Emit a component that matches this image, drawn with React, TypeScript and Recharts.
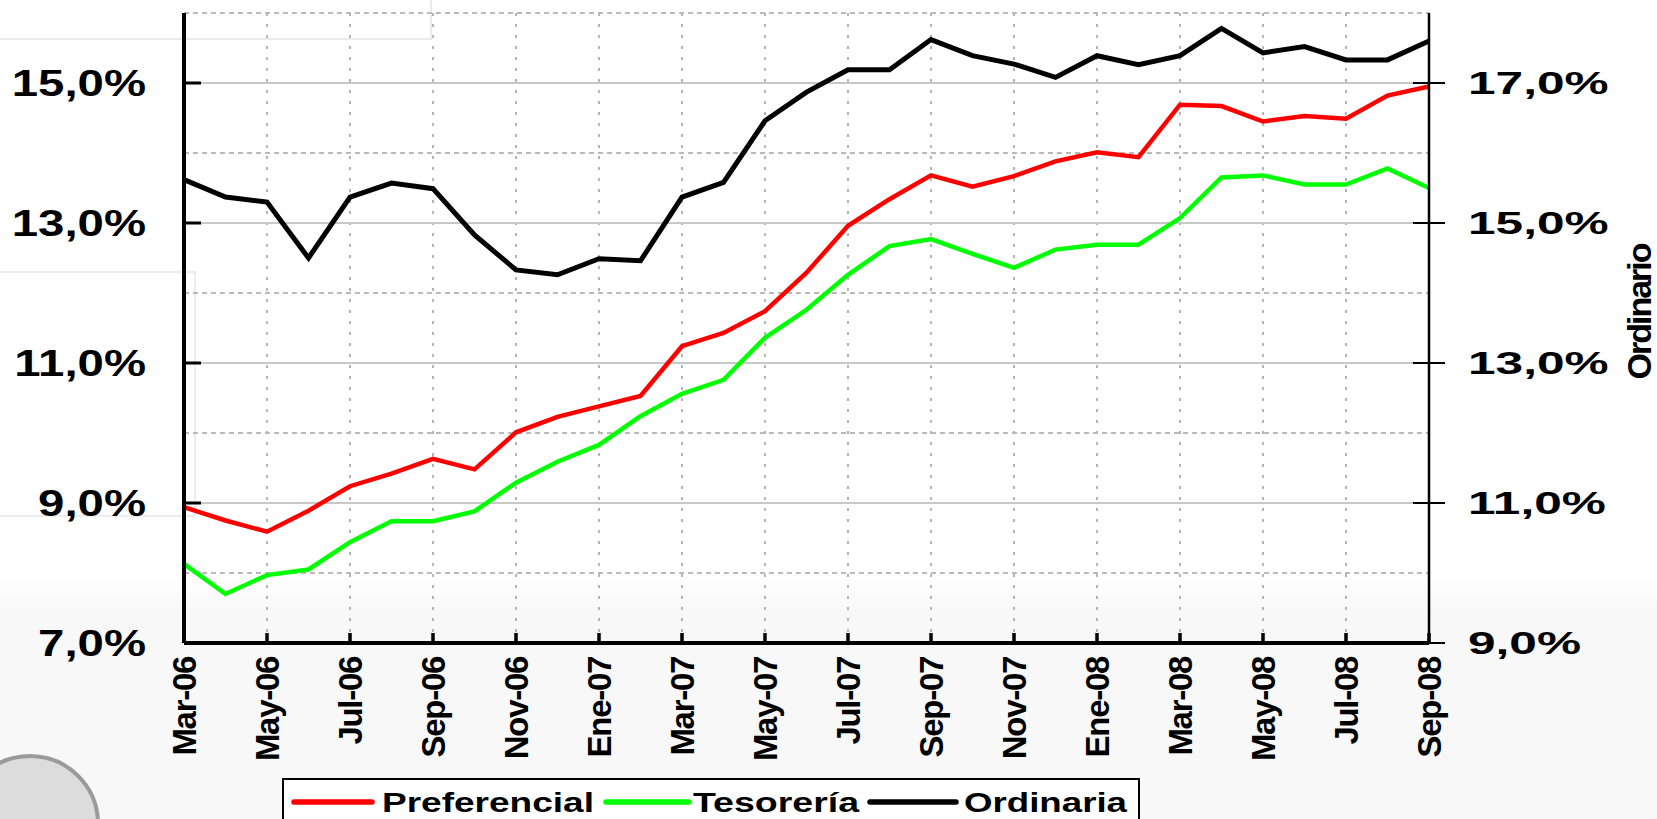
import { LineChart, Line, XAxis, YAxis, CartesianGrid, ReferenceLine } from 'recharts'

const meses = [
  'Mar-06', 'Abr-06', 'May-06', 'Jun-06', 'Jul-06', 'Ago-06', 'Sep-06', 'Oct-06', 'Nov-06', 'Dic-06',
  'Ene-07', 'Feb-07', 'Mar-07', 'Abr-07', 'May-07', 'Jun-07', 'Jul-07', 'Ago-07', 'Sep-07', 'Oct-07',
  'Nov-07', 'Dic-07', 'Ene-08', 'Feb-08', 'Mar-08', 'Abr-08', 'May-08', 'Jun-08', 'Jul-08', 'Ago-08', 'Sep-08',
]
const preferencial = [8.94, 8.75, 8.59, 8.89, 9.24, 9.42, 9.63, 9.48, 10.01, 10.23, 10.38, 10.53, 11.24, 11.43, 11.74, 12.29, 12.96, 13.34, 13.68, 13.52, 13.67, 13.88, 14.01, 13.94, 14.69, 14.67, 14.45, 14.53, 14.49, 14.82, 14.95]
const tesoreria = [8.13, 7.70, 7.97, 8.05, 8.44, 8.74, 8.74, 8.88, 9.29, 9.59, 9.83, 10.24, 10.56, 10.76, 11.36, 11.76, 12.26, 12.67, 12.77, 12.56, 12.36, 12.62, 12.69, 12.69, 13.07, 13.65, 13.68, 13.55, 13.55, 13.78, 13.50]
const ordinaria = [15.62, 15.37, 15.30, 14.50, 15.37, 15.57, 15.49, 14.83, 14.33, 14.26, 14.49, 14.46, 15.37, 15.58, 16.46, 16.87, 17.19, 17.19, 17.62, 17.39, 17.27, 17.08, 17.39, 17.26, 17.39, 17.78, 17.43, 17.52, 17.33, 17.33, 17.60]

const leftTicks = [7, 9, 11, 13, 15]
const rightTicks = [9, 11, 13, 15, 17]
const solidLines = [9, 11, 13, 15]
const dashedLines = [8, 10, 12, 14, 16]

const data = meses.map((mes, i) => ({
  mes,
  preferencial: preferencial[i],
  tesoreria: tesoreria[i],
  ordinaria: ordinaria[i],
}))

const FONT = '"Liberation Sans", Arial, sans-serif'
const pct = (v: number) => v.toFixed(1).replace('.', ',') + '%'

function LeftTick({ x, y, payload }: any) {
  return (
    <g>
      <line x1={x} x2={x + 17} y1={y} y2={y} stroke="#000" strokeWidth={3} />
      <text transform={`translate(${x - 38},${y + 13}) scale(1.28,1)`} textAnchor="end"
        fontFamily={FONT} fontWeight="bold" fontSize={37} fill="#000">{pct(payload.value)}</text>
    </g>
  )
}

function RightTick({ x, y, payload }: any) {
  return (
    <g>
      <line x1={x - 16} x2={x + 16} y1={y} y2={y} stroke="#000" strokeWidth={2} />
      <text transform={`translate(${x + 39},${y + 11}) scale(1.6,1)`} textAnchor="start"
        fontFamily={FONT} fontWeight="bold" fontSize={31} fill="#000">{pct(payload.value)}</text>
    </g>
  )
}

function XTick({ x, y, payload }: any) {
  return (
    <g>
      <line x1={x} x2={x} y1={y} y2={y - 10} stroke="#000" strokeWidth={3.5} />
      <text transform={`translate(${x},${y + 14}) rotate(-90)`} textAnchor="end" dy="0.36em"
        fontFamily={FONT} fontWeight="bold" fontSize={33} letterSpacing={-1.3} fill="#000">{payload.value}</text>
    </g>
  )
}

function OrdLabel({ viewBox }: any) {
  const cx = viewBox.x + 210
  const cy = 312
  return (
    <text transform={`translate(${cx},${cy}) rotate(-90)`} textAnchor="middle" dy="0.36em"
      fontFamily={FONT} fontWeight="bold" fontSize={34} letterSpacing={-2} fill="#000">Ordinario</text>
  )
}

function LegendBox() {
  return (
    <div style={{ position: 'absolute', left: 282, top: 778, width: 854, height: 52, border: '2px solid #000', background: '#fff' }}>
      <svg width={854} height={52}>
        <g fontFamily={FONT} fontWeight="bold" fontSize={27} fill="#000">
          <line x1={10} x2={88} y1={22} y2={22} stroke="#ff0000" strokeWidth={5.5} strokeLinecap="round" />
          <text x={98} y={32} textLength={212} lengthAdjust="spacingAndGlyphs">Preferencial</text>
          <line x1={322} x2={405} y1={22} y2={22} stroke="#00ff00" strokeWidth={5.5} strokeLinecap="round" />
          <text x={409} y={32} textLength={166} lengthAdjust="spacingAndGlyphs">Tesorería</text>
          <line x1={586} x2={672} y1={22} y2={22} stroke="#000" strokeWidth={5.5} strokeLinecap="round" />
          <text x={680} y={32} textLength={163} lengthAdjust="spacingAndGlyphs">Ordinaria</text>
        </g>
      </svg>
    </div>
  )
}

export default function App() {
  return (
    <div style={{
      position: 'absolute', left: 0, top: 0, width: 1657, height: 819, overflow: 'hidden',
      background: 'linear-gradient(to bottom, #fff 0px, #fff 575px, #f8f8f8 610px, #f8f8f8 100%)',
    }}>
      <div style={{ position: 'absolute', left: -2, top: -2, width: 430, height: 38, border: '2px solid #ebebeb' }} />
      <div style={{ position: 'absolute', left: -2, top: 271, width: 194, height: 242, border: '2px solid #ededed' }} />
      <div style={{ position: 'absolute', left: -40, top: 754, width: 132, height: 132, borderRadius: '50%', border: '4px solid #9a9a9a', background: '#dcdcdc' }} />
      <div style={{ position: 'absolute', left: 0, top: 0 }}>
        <LineChart width={1657} height={819} data={data} margin={{ top: 13, right: 0, bottom: 0, left: 0 }}>
          <CartesianGrid horizontal={false} vertical stroke="#b4b4b4" strokeDasharray="3 8" strokeWidth={2} />
          {dashedLines.map(v => (
            <ReferenceLine key={'d' + v} yAxisId="left" y={v} stroke="#b9b9b9" strokeWidth={2} strokeDasharray="5 4" />
          ))}
          {solidLines.map(v => (
            <ReferenceLine key={'s' + v} yAxisId="left" y={v} stroke="#c8c8c8" strokeWidth={2} />
          ))}
          <XAxis dataKey="mes" interval={1} height={176} tickSize={0} tickMargin={0}
            axisLine={{ stroke: '#000', strokeWidth: 4 }} tickLine={false} tick={<XTick />} />
          <YAxis yAxisId="left" domain={[7, 16]} ticks={leftTicks} width={184} tickSize={0} tickMargin={0}
            axisLine={{ stroke: '#000', strokeWidth: 4 }} tickLine={false} tick={<LeftTick />} />
          <YAxis yAxisId="right" orientation="right" domain={[9, 18]} ticks={rightTicks} width={228} tickSize={0} tickMargin={0}
            axisLine={{ stroke: '#000', strokeWidth: 2.5 }} tickLine={false} tick={<RightTick />} label={<OrdLabel />} />
          <Line yAxisId="left" dataKey="preferencial" stroke="#ff0000" strokeWidth={4.5} dot={false} isAnimationActive={false} />
          <Line yAxisId="left" dataKey="tesoreria" stroke="#00ff00" strokeWidth={4.5} dot={false} isAnimationActive={false} />
          <Line yAxisId="right" dataKey="ordinaria" stroke="#000" strokeWidth={5} dot={false} isAnimationActive={false} />
        </LineChart>
      </div>
      <LegendBox />
    </div>
  )
}
